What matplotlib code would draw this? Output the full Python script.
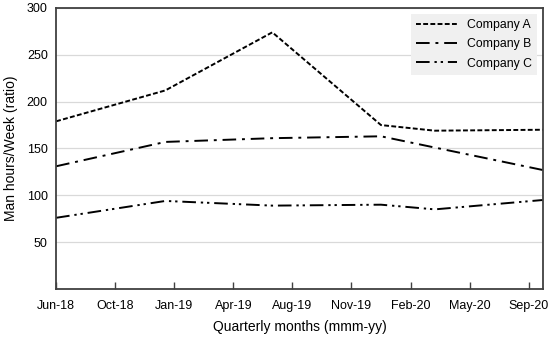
import matplotlib
matplotlib.use("Agg")
import matplotlib.pyplot as plt
import matplotlib.dates as mdates
import pandas as pd

plt.rcParams['font.family'] = ['Liberation Sans', 'DejaVu Sans']

dates = pd.to_datetime(['2018-06-30', '2019-01-01', '2019-07-01',
                        '2020-01-01', '2020-04-01', '2020-10-01'])
company_a = [179, 212, 274, 175, 169, 170]
company_b = [131, 157, 161, 163, 151, 127]
company_c = [76, 94, 89, 90, 85, 95]

tick_dates = pd.date_range('2018-06-30', periods=9, freq='100D')
y_ticks = [50, 100, 150, 200, 250, 300]

fig = plt.figure(figsize=(5.5, 3.39), dpi=100)
ax = fig.add_axes([0.102, 0.1475, 0.885, 0.829])

ax.plot(dates, company_a, color='black', lw=1.4, dashes=(2.5, 1.2), label='Company A')
ax.plot(dates, company_b, color='black', lw=1.4, dashes=(7, 3, 1.5, 3), label='Company B')
ax.plot(dates, company_c, color='black', lw=1.4, dashes=(7, 2.5, 1.2, 2, 1.2, 2.5), label='Company C')

ax.set_xlim(pd.Timestamp('2018-06-30'), pd.Timestamp('2020-10-01'))
ax.set_ylim(0, 300)
ax.set_xticks(tick_dates)
ax.xaxis.set_major_formatter(mdates.DateFormatter('%b-%y'))
ax.set_yticks(y_ticks)

ax.grid(axis='y', color='#d9d9d9', lw=0.9)
ax.set_axisbelow(True)
ax.tick_params(axis='x', direction='in', length=5, width=1, color='#404040',
               labelsize=9, pad=8)
ax.tick_params(axis='y', length=0, labelsize=9, pad=6)
for s in ax.spines.values():
    s.set_color('#404040')
    s.set_linewidth(1.3)

ax.set_xlabel('Quarterly months (mmm-yy)', fontsize=10, labelpad=6)
ax.set_ylabel('Man hours/Week (ratio)', fontsize=10, labelpad=6)

leg = ax.legend(loc='upper right', fontsize=8.8, frameon=True, fancybox=False,
                handlelength=3.4, borderaxespad=0.5, labelspacing=0.6)
leg.get_frame().set_facecolor('#f0f0f0')
leg.get_frame().set_edgecolor('none')
leg.get_frame().set_alpha(1)

fig.savefig('out.png', dpi=100)
